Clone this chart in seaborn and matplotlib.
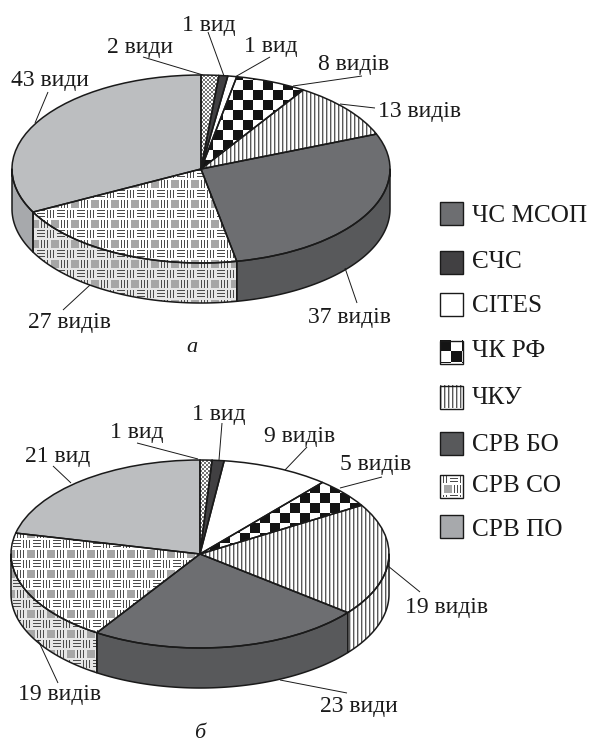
import numpy as np
import matplotlib
matplotlib.use("Agg")
import matplotlib.pyplot as plt
from matplotlib.patches import Rectangle
import seaborn as sns

sns.set_theme(style="white")
plt.rcParams["font.family"] = ["Liberation Serif", "DejaVu Serif"]

# ---------- data ----------
categories = ["ЧС МСОП", "ЄЧС", "CITES", "ЧК РФ", "ЧКУ", "СРВ БО", "СРВ СО", "СРВ ПО"]
values_a = [2, 1, 1, 8, 13, 37, 27, 43]
values_b = [1, 1, 9, 5, 19, 23, 19, 21]
labels_a = ["2 види", "1 вид", "1 вид", "8 видів", "13 видів", "37 видів", "27 видів", "43 види"]
labels_b = ["1 вид", "1 вид", "9 видів", "5 видів", "19 видів", "23 види", "19 видів", "21 вид"]

top_colors = ["#ffffff", "#414042", "#ffffff", "#ffffff", "#ffffff", "#6d6e71", "#ffffff", "#bcbec0"]
wall_colors = ["#ffffff", "#414042", "#ffffff", "#ffffff", "#ffffff", "#58595b", "#e6e7e8", "#a7a9ac"]
legend_colors = ["#6d6e71", "#414042", "#ffffff", "#ffffff", "#ffffff", "#58595b", "#ffffff", "#a7a9ac"]
fills = ["cross", None, None, "check", "stripe", None, "weave", None]
legend_fills = [None, None, None, "check", "stripe", None, "weave", None]

W, H = 592, 744
fig = plt.figure(figsize=(W / 100, H / 100), dpi=100, facecolor="white")


# ---------- fill patterns, one array cell per output pixel ----------
def tile_cross():
    t = np.ones((4, 4))
    for i in range(4):
        t[i, i] = 0.45
        t[i, 3 - i] = 0.45
    return t


def tile_check(s=10):
    t = np.ones((2 * s, 2 * s))
    t[:s, :s] = 0.08
    t[s:, s:] = 0.08
    return t


def tile_stripe():
    return np.array([[0.35, 0.75, 1.0, 1.0]])


def tile_weave():
    t = np.ones((20, 20))
    for x in (0, 3, 6):
        t[1:9, x] = 0.3
    for y in (1, 4, 7):
        t[y, 10:18] = 0.3
    lower = np.ones((10, 20))
    lower[1:9, 0:8] = 0.65
    for x in (10, 13, 16):
        lower[1:9, x] = 0.3
    t[10:, :] = np.roll(lower, 4, axis=1)
    return t


TILES = {"cross": tile_cross, "check": tile_check, "stripe": tile_stripe, "weave": tile_weave}


def pattern_image(ax, kind, wpx, hpx, clip_path, clip_tr, paper=1.0, z=2, phase=None):
    t = TILES[kind]()
    if phase and kind in phase:
        t = np.roll(t, phase[kind], axis=(1, 0))
    img = np.tile(t, (hpx // t.shape[0] + 1, wpx // t.shape[1] + 1))[:hpx, :wpx]
    img = np.where(img > 0.99, paper, img)
    x0, x1 = ax.get_xlim()
    y0, y1 = ax.get_ylim()
    im = ax.imshow(img, extent=(x0, x1, y0, y1), aspect="auto", cmap="gray", vmin=0, vmax=1,
                   interpolation="nearest", origin="upper", zorder=z)
    im.set_clip_path(clip_path, transform=clip_tr)
    ax.set_xlim(x0, x1)
    ax.set_ylim(y0, y1)


def pie3d(values, cx, cy, rx, ry, depth, phase):
    x0, x1 = int(cx - 1.05 * rx), int(cx + 1.05 * rx)
    y0, y1 = int(cy - 1.05 * ry), int(cy + ry + depth + 8)
    ax = fig.add_axes([x0 / W, 1 - y1 / H, (x1 - x0) / W, (y1 - y0) / H])
    wedges, _ = ax.pie(values, startangle=90, counterclock=False, colors=top_colors,
                       wedgeprops=dict(linewidth=0, zorder=1))
    ax.set_aspect("auto")
    ax.set_xlim((x0 - cx) / rx, (x1 - cx) / rx)
    ax.set_ylim((cy - y1) / ry, (cy - y0) / ry)
    ax.axis("off")
    wpx, hpx = x1 - x0, y1 - y0
    d = depth / ry

    # side wall, from the same cumulative shares as the wedges; only the front half shows
    angles = 90 - np.cumsum([0] + list(values)) / sum(values) * 360
    for i in range(len(values)):
        a = min(angles[i], 0)
        b = max(angles[i + 1], -180)
        if a <= b:
            continue
        th = np.radians(np.linspace(b, a, 120))
        xs, ys = np.cos(th), np.sin(th)
        poly = ax.fill_between(xs, ys, ys - d, facecolor=wall_colors[i], edgecolor="none", zorder=1)
        if fills[i]:
            pattern_image(ax, fills[i], wpx, hpx, poly.get_paths()[0], ax.transData,
                          paper=0.9 if fills[i] == "weave" else 1.0, phase=phase)
        ax.fill_between(xs, ys, ys - d, facecolor="none", edgecolor="#1a1a1a", linewidth=1.1, zorder=3)

    for i, w in enumerate(wedges):
        if fills[i]:
            pattern_image(ax, fills[i], wpx, hpx, w.get_path(), w.get_transform(), phase=phase)
    ax.pie(values, startangle=90, counterclock=False, colors=["none"] * len(values),
           wedgeprops=dict(linewidth=1.1, edgecolor="#1a1a1a", zorder=4))
    ax.set_aspect("auto")
    ax.set_xlim((x0 - cx) / rx, (x1 - cx) / rx)
    ax.set_ylim((cy - y1) / ry, (cy - y0) / ry)
    ax.axis("off")
    return ax


pie3d(values_a, 201, 169, 189, 94, 40, {"check": (1, 10), "weave": (5, -1)})
pie3d(values_b, 200, 554, 189, 94, 40, {"check": (-1, -2), "weave": (2, 4)})

# ---------- overlay in pixel coordinates: labels, leaders, legend ----------
ov = fig.add_axes([0, 0, 1, 1], facecolor="none")
ov.set_xlim(0, W)
ov.set_ylim(H, 0)
ov.axis("off")

FS = 17.0
anno_a = [(107, 53, (143, 57), (203, 75)), (182, 31, (208, 32), (224, 76)), (244, 52, (270, 57), (235, 77)),
          (318, 70, (362, 76), (293, 86)), (378, 117, (375, 108), (340, 104)), (308, 323, (357, 303), (345, 268)),
          (28, 328, (63, 310), (90, 285)), (11, 86, (48, 92), (35, 123))]
anno_b = [(110, 438, (137, 443), (198, 459)), (192, 420, (222, 423), (219, 460)), (264, 442, (307, 447), (285, 470)),
          (340, 470, (382, 477), (340, 488)), (405, 613, (420, 592), (388, 566)), (320, 712, (347, 693), (280, 680)),
          (18, 700, (58, 683), (38, 640)), (25, 462, (53, 466), (71, 483))]
for labels, anno in ((labels_a, anno_a), (labels_b, anno_b)):
    for lab, (tx, ty, p, q) in zip(labels, anno):
        ov.text(tx, ty, lab, fontsize=FS, color="#1a1a1a", ha="left", va="baseline", zorder=6)
        ov.plot([p[0], q[0]], [p[1], q[1]], color="#1a1a1a", lw=0.7, zorder=5, solid_capstyle="butt")

ov.text(192, 352, "а", fontsize=16, style="italic", color="#1a1a1a", ha="center", va="baseline")
ov.text(200, 738, "б", fontsize=16, style="italic", color="#1a1a1a", ha="center", va="baseline")

legend_y = [213, 262, 304, 352, 397, 443, 486, 526]
legend_base = [222, 268, 312, 357, 404, 451, 492, 536]
for cat, y, by, col, fill in zip(categories, legend_y, legend_base, legend_colors, legend_fills):
    rect = Rectangle((440, y - 11.5), 23, 23, facecolor=col, edgecolor="none", zorder=2)
    ov.add_patch(rect)
    if fill:
        t = tile_check(11) if fill == "check" else TILES[fill]()
        h, w = 23, 23
        img = np.tile(t, (h // t.shape[0] + 1, w // t.shape[1] + 1))[:h, :w]
        im = ov.imshow(img, extent=(440, 463, y + 11.5, y - 11.5), aspect="auto", cmap="gray",
                       vmin=0, vmax=1, interpolation="nearest", zorder=3)
        ov.set_xlim(0, W)
        ov.set_ylim(H, 0)
    ov.add_patch(Rectangle((440, y - 11.5), 23, 23, facecolor="none", edgecolor="#1a1a1a", lw=1.0, zorder=4))
    ov.text(472, by, cat, fontsize=18.2, color="#1a1a1a", ha="left", va="baseline")

fig.savefig("out.png", dpi=100, facecolor="white")
